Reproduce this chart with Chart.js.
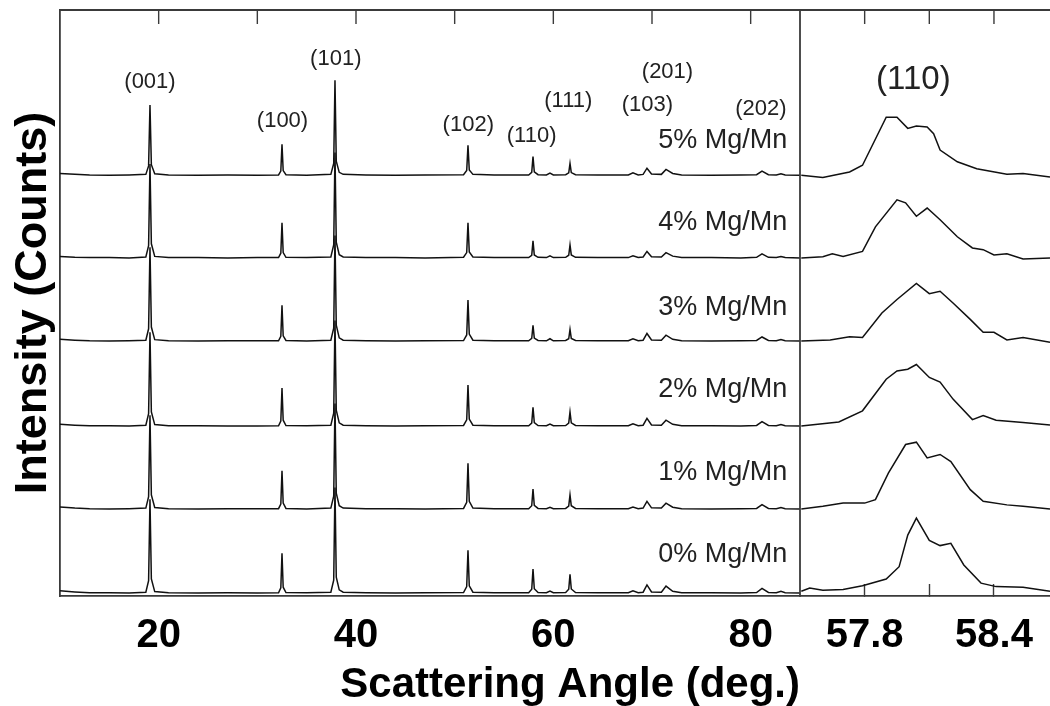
<!DOCTYPE html>
<html lang="en">
<head>
  <meta charset="UTF-8">
  <title>XRD patterns, Mg/Mn doping</title>
  <script src="https://cdn.jsdelivr.net/npm/chart.js"></script>
  <style>
    body { margin: 0; background: #fff; }
    canvas { display: block; }
  </style>
</head>
<body>
  <canvas id="xrdChart" width="1050" height="706"></canvas>

  <script>
    const samples = ["0% Mg/Mn", "1% Mg/Mn", "2% Mg/Mn", "3% Mg/Mn", "4% Mg/Mn", "5% Mg/Mn"];
    // vertical offset of each pattern (arb. counts)
    const offsets = [0.5, 14.85, 29.0, 43.5, 57.7, 71.8];
    const sampleLabelAngle = 83.71;
    const sampleLabelCounts = [7.0, 21.0, 35.15, 49.3, 63.65, 77.7];

    // full scan, 2theta (deg.)
    const wideAngles = [
      10, 11.5, 13, 15, 17, 18.7, 18.98, 19.12, 19.26, 19.6,
      21, 24, 27, 30, 32.15, 32.38, 32.5, 32.62, 32.9, 35,
      37.45, 37.74, 37.87, 38.0, 38.3, 38.7, 41, 44, 47, 50.9,
      51.22, 51.35, 51.48, 51.85, 54, 57.5, 57.81, 57.94, 58.07, 58.45,
      59.3, 59.66, 60.0, 61.25, 61.56, 61.69, 61.82, 62.25, 64.5, 67.6,
      68.07, 68.6, 69.1, 69.49, 69.95, 70.95, 71.42, 72.1, 73, 76,
      79, 80.6, 81.15, 81.8, 82.6, 83.07, 83.5, 85
    ];
    const wide0 = [
      0.4, 0.2, 0.05, 0.05, 0, 0.15, 2.1, 16.0, 2.4, 0.25,
      0.05, 0, 0.05, 0, 0.05, 0.9, 6.8, 1.0, 0.1, 0.05,
      0.15, 2.2, 18.0, 2.7, 0.55, 0.15, 0.05, 0, 0.05, 0.1,
      1.1, 7.3, 1.25, 0.15, 0.05, 0.05, 0.65, 4.1, 0.75, 0.1,
      0.05, 0.35, 0.05, 0.1, 0.65, 3.2, 0.7, 0.1, 0.05, 0.05,
      0.4, 0.05, 0.15, 1.4, 0.2, 0.15, 1.2, 0.3, 0.05, 0.05,
      0, 0.1, 0.8, 0.1, 0.05, 0.3, 0.05, 0
    ];
    const wide1 = [
      0.35, 0.15, 0.05, 0, 0.05, 0.15, 2.1, 16.0, 2.4, 0.25,
      0.05, 0, 0.05, 0.05, 0.05, 0.85, 6.5, 1.0, 0.1, 0,
      0.15, 2.2, 18.0, 2.7, 0.55, 0.15, 0.05, 0.05, 0, 0.1,
      1.15, 7.8, 1.3, 0.15, 0.05, 0.05, 0.55, 3.4, 0.6, 0.1,
      0.05, 0.3, 0.05, 0.1, 0.5, 2.4, 0.55, 0.1, 0.05, 0.05,
      0.35, 0.05, 0.15, 1.3, 0.2, 0.15, 1.0, 0.3, 0.05, 0,
      0.05, 0.1, 0.75, 0.1, 0.05, 0.25, 0.05, 0
    ];
    const wide2 = [
      0.3, 0.15, 0.05, 0.05, 0, 0.15, 2.1, 16.0, 2.4, 0.25,
      0.05, 0.05, 0, 0, 0.05, 0.85, 6.5, 1.0, 0.1, 0.05,
      0.15, 2.2, 18.0, 2.7, 0.55, 0.15, 0.05, 0, 0.05, 0.1,
      1.05, 7.0, 1.2, 0.15, 0.05, 0.05, 0.5, 3.2, 0.6, 0.1,
      0.05, 0.35, 0.05, 0.1, 0.5, 2.4, 0.55, 0.1, 0.05, 0.05,
      0.4, 0.05, 0.15, 1.3, 0.2, 0.15, 1.0, 0.3, 0.05, 0.05,
      0, 0.1, 0.75, 0.1, 0.05, 0.25, 0.05, 0
    ];
    const wide3 = [
      0.3, 0.15, 0.05, 0, 0.05, 0.15, 2.1, 16.0, 2.4, 0.25,
      0.05, 0, 0.05, 0.05, 0.05, 0.8, 6.1, 0.9, 0.1, 0,
      0.15, 2.2, 18.0, 2.7, 0.55, 0.15, 0.05, 0, 0.05, 0.1,
      1.05, 7.0, 1.2, 0.15, 0.05, 0.05, 0.45, 2.7, 0.5, 0.1,
      0.05, 0.4, 0.05, 0.1, 0.4, 2.0, 0.45, 0.1, 0.05, 0.05,
      0.4, 0.05, 0.15, 1.3, 0.2, 0.15, 1.0, 0.3, 0.05, 0,
      0.05, 0.1, 0.7, 0.1, 0.05, 0.25, 0.05, 0
    ];
    const wide4 = [
      0.25, 0.1, 0.05, 0.05, 0, 0.15, 2.1, 16.0, 2.4, 0.25,
      0.05, 0.05, 0, 0.05, 0.05, 0.8, 6.0, 0.9, 0.1, 0.05,
      0.15, 2.2, 18.0, 2.7, 0.55, 0.15, 0.05, 0.05, 0, 0.1,
      0.9, 6.0, 1.0, 0.15, 0.05, 0.05, 0.45, 2.9, 0.5, 0.1,
      0.05, 0.35, 0.05, 0.1, 0.45, 2.2, 0.5, 0.1, 0.05, 0.05,
      0.35, 0.05, 0.15, 1.1, 0.2, 0.15, 0.9, 0.3, 0.05, 0.05,
      0, 0.1, 0.7, 0.1, 0.05, 0.25, 0.05, 0
    ];
    const wide5 = [
      0.3, 0.15, 0.05, 0, 0.05, 0.15, 1.6, 12.0, 1.8, 0.25,
      0.05, 0, 0.05, 0, 0.05, 0.7, 5.3, 0.8, 0.1, 0,
      0.15, 2.0, 16.2, 2.4, 0.5, 0.15, 0.05, 0, 0.05, 0.1,
      0.8, 5.1, 0.9, 0.15, 0.05, 0.05, 0.5, 3.2, 0.6, 0.1,
      0.05, 0.35, 0.05, 0.1, 0.4, 2.0, 0.45, 0.1, 0.05, 0.05,
      0.4, 0.05, 0.15, 1.2, 0.2, 0.15, 1.0, 0.3, 0.05, 0,
      0.05, 0.1, 0.7, 0.1, 0.05, 0.25, 0.05, 0
    ];

    // zoom on the (110) reflection: [2theta, counts]
    const inset0 = [[57.506, 0.3], [57.545, 0.85], [57.606, 0.5], [57.70, 0.6], [57.79, 1.25], [57.90, 2.4], [57.96, 4.5], [58.00, 9.9], [58.04, 12.8], [58.10, 9.0], [58.15, 8.1], [58.20, 8.5], [58.26, 4.8], [58.34, 1.7], [58.41, 1.1], [58.535, 1.0], [58.66, 0.3]];
    const inset1 = [[57.506, 0], [57.606, 0.45], [57.70, 1.0], [57.80, 1.0], [57.85, 1.6], [57.91, 6.1], [57.99, 11.0], [58.04, 11.4], [58.09, 8.7], [58.15, 9.3], [58.20, 8.1], [58.29, 3.3], [58.35, 1.3], [58.46, 0.7], [58.535, 0.45], [58.66, 0]];
    const inset2 = [[57.506, 0], [57.68, 0.7], [57.79, 2.6], [57.90, 8.0], [57.95, 9.4], [58.00, 9.7], [58.04, 10.5], [58.10, 8.3], [58.15, 7.5], [58.21, 4.6], [58.30, 1.1], [58.35, 1.8], [58.41, 1.0], [58.535, 0.6], [58.66, 0.2]];
    const inset3 = [[57.506, 0], [57.64, 0.2], [57.73, 0.75], [57.79, 0.6], [57.88, 4.8], [57.95, 7.1], [58.04, 9.85], [58.10, 8.1], [58.15, 8.5], [58.21, 6.5], [58.29, 3.7], [58.35, 1.5], [58.40, 1.5], [58.46, 0.2], [58.535, 0.6], [58.66, -0.2]];
    const inset4 = [[57.506, 0], [57.606, 0.2], [57.65, 0.7], [57.70, 0.25], [57.79, 1.1], [57.85, 5.3], [57.95, 9.9], [57.99, 9.4], [58.04, 7.1], [58.09, 8.5], [58.15, 6.5], [58.23, 3.6], [58.30, 1.7], [58.35, 1.4], [58.40, 0.5], [58.46, 0.7], [58.535, -0.2], [58.66, 0]];
    const inset5 = [[57.506, 0], [57.606, -0.4], [57.73, 0.56], [57.79, 1.7], [57.90, 9.9], [57.95, 9.9], [58.00, 8.0], [58.04, 8.4], [58.09, 8.25], [58.12, 7.1], [58.15, 4.3], [58.23, 2.3], [58.32, 1.1], [58.46, 0.17], [58.535, 0.3], [58.66, -0.3]];

    const peakNames = ["(001)", "(100)", "(101)", "(102)", "(110)", "(111)", "(103)", "(201)", "(202)"];
    const peakLabelAngles = [19.12, 32.55, 37.95, 51.38, 57.8, 61.52, 69.54, 71.57, 81.03];
    const peakLabelCounts = [87.8, 81.1, 91.6, 80.4, 78.5, 84.5, 83.8, 89.5, 83.2];
    const insetTitle = "(110)";
    const insetTitleAt = [58.026, 88.05];

    const wideBottomTicks = [20, 40, 60, 80];
    const wideTopTicks = [20, 30, 40, 50, 60, 70, 80];
    const insetTicks = [57.8, 58.1, 58.4];
    const insetTickLabels = [57.8, 58.4];

    const FONT = '"Liberation Sans", Arial, Helvetica, sans-serif';
    const INK = "#111";
    const FRAME = "#3a3a3a";
    Chart.defaults.font.family = FONT;
    Chart.defaults.color = "#000";

    const wideSets = [wide0, wide1, wide2, wide3, wide4, wide5];
    const insetSets = [inset0, inset1, inset2, inset3, inset4, inset5];

    const datasets = [];
    wideSets.forEach((vals, k) => {
      datasets.push({
        label: samples[k],
        xAxisID: "x",
        data: wideAngles.map((a, i) => ({ x: a, y: vals[i] + offsets[k] }))
      });
    });
    insetSets.forEach((pts, k) => {
      datasets.push({
        label: samples[k] + " (110)",
        xAxisID: "x2",
        data: pts.map(p => ({ x: p[0], y: p[1] + offsets[k] }))
      });
    });

    // no side padding for edge labels, the two panels fill the width
    function fixBottom(s) {
      s.height = 110;
      s.paddingLeft = 0;
      s.paddingRight = 0;
    }

    // top edge, panel divider and inward top ticks
    const frame = {
      id: "frame",
      afterDatasetsDraw(chart) {
        const { ctx, chartArea, scales } = chart;
        const top = chartArea.top;
        const seg = (x1, y1, x2, y2) => { ctx.beginPath(); ctx.moveTo(x1, y1); ctx.lineTo(x2, y2); ctx.stroke(); };
        ctx.save();
        ctx.strokeStyle = FRAME;
        ctx.lineWidth = 1.8;
        seg(chartArea.left, top, chartArea.right, top);
        seg(scales.x.right, top, scales.x.right, chartArea.bottom);
        ctx.lineWidth = 1.4;
        wideTopTicks.forEach(v => { const px = scales.x.getPixelForValue(v); seg(px, top, px, top + 14); });
        insetTicks.forEach(v => { const px = scales.x2.getPixelForValue(v); seg(px, top, px, top + 14); });
        ctx.restore();
      }
    };

    // peak indices, sample names and the zoom title
    const textLabels = {
      id: "textLabels",
      afterDatasetsDraw(chart) {
        const { ctx, scales } = chart;
        ctx.save();
        ctx.fillStyle = "#222";
        ctx.textBaseline = "middle";
        ctx.textAlign = "center";
        ctx.font = "22px " + FONT;
        peakNames.forEach((t, i) => {
          ctx.fillText(t, scales.x.getPixelForValue(peakLabelAngles[i]), scales.y.getPixelForValue(peakLabelCounts[i]));
        });
        ctx.font = "33px " + FONT;
        ctx.fillText(insetTitle, scales.x2.getPixelForValue(insetTitleAt[0]), scales.y.getPixelForValue(insetTitleAt[1]));
        ctx.textAlign = "right";
        ctx.font = "27px " + FONT;
        samples.forEach((s, i) => {
          ctx.fillText(s, scales.x.getPixelForValue(sampleLabelAngle), scales.y.getPixelForValue(sampleLabelCounts[i]));
        });
        ctx.restore();
      }
    };

    const border = { display: true, color: FRAME, width: 1.8 };

    new Chart(document.getElementById("xrdChart"), {
      type: "line",
      data: { datasets },
      options: {
        responsive: false,
        animation: false,
        layout: { padding: { top: 10, right: 0, bottom: 0, left: 0 } },
        elements: {
          point: { radius: 0 },
          line: { borderColor: INK, borderWidth: 1.5, tension: 0, fill: false }
        },
        plugins: { legend: { display: false }, tooltip: { enabled: false } },
        scales: {
          x: {
            type: "linear", position: "bottom", stack: "bottom", stackWeight: 740,
            min: 10, max: 85,
            afterBuildTicks: s => { s.ticks = wideBottomTicks.map(v => ({ value: v })); },
            afterFit: fixBottom,
            border,
            grid: { drawOnChartArea: false, drawTicks: false },
            ticks: { autoSkip: false, maxRotation: 0, padding: 20, font: { size: 40, weight: "bold", lineHeight: 1 }, callback: v => String(v) },
            title: { display: true, text: "Scattering Angle (deg.)", align: "end", padding: 0, font: { size: 42, weight: "bold", lineHeight: 1 } }
          },
          x2: {
            type: "linear", position: "bottom", stack: "bottom", stackWeight: 250,
            min: 57.5, max: 58.66,
            afterBuildTicks: s => { s.ticks = insetTicks.map(v => ({ value: v })); },
            afterFit: fixBottom,
            border,
            grid: { drawOnChartArea: false, tickLength: -12, tickColor: FRAME, tickWidth: 1.4 },
            ticks: {
              autoSkip: false, maxRotation: 0, padding: 32,
              font: { size: 40, weight: "bold", lineHeight: 1 },
              callback: v => insetTickLabels.includes(v) ? v.toFixed(1) : ""
            }
          },
          y: {
            type: "linear", position: "left",
            min: 0, max: 100,
            afterFit: s => { s.width = 60; s.paddingTop = 0; s.paddingBottom = 0; },
            border,
            grid: { drawOnChartArea: false, drawTicks: false },
            ticks: { display: false },
            title: { display: true, text: "Intensity (Counts)", padding: { top: 11, bottom: 0 }, font: { size: 45, weight: "bold", lineHeight: 1 } }
          }
        }
      },
      plugins: [frame, textLabels]
    });
  </script>
</body>
</html>
